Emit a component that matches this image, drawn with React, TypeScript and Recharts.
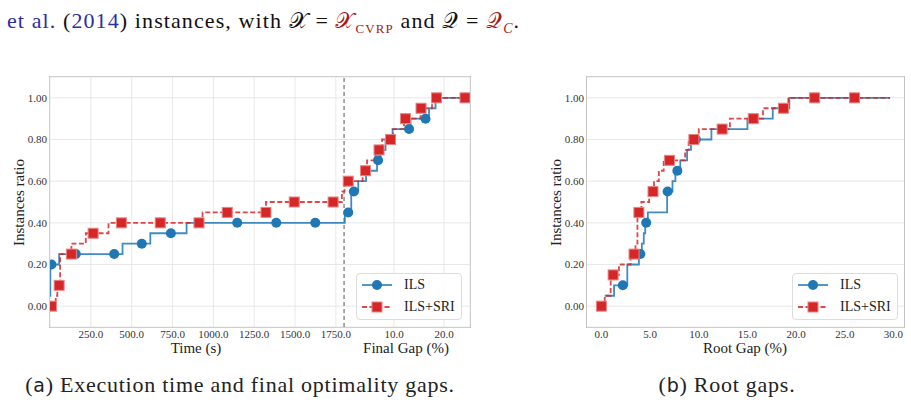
import React from 'react';
import { ComposedChart, Line, Scatter, XAxis, YAxis, CartesianGrid, ReferenceLine } from 'recharts';

// [x, ratio] pairs
// left panel: time part in seconds, gap part in %
const ilsTimeSteps = [[0, 0.05], [2, 0.2], [56, 0.25], [444, 0.3], [614, 0.35], [836, 0.4]];
const ilsGapSteps = [[0.16, 0.45], [1.44, 0.55], [2.84, 0.6], [4.4, 0.65], [6.6, 0.7], [7.3, 0.75], [8.3, 0.8], [9.7, 0.85], [13.3, 0.9], [17.0, 0.95], [18.3, 1.0], [24.2, 1.0]];
const ilsTimeMarks = [[9, 0.2], [158, 0.25], [393, 0.25], [562, 0.3], [740, 0.35], [1146, 0.4], [1385, 0.4], [1624, 0.4]];
const ilsGapMarks = [[0.84, 0.45], [1.96, 0.55], [6.8, 0.7], [13.0, 0.85], [16.3, 0.9], [24.2, 1.0]];

const sriTimeSteps = [[9, 0.0], [35, 0.05], [45, 0.1], [62, 0.25], [131, 0.3], [219, 0.35], [358, 0.4], [934, 0.45], [1322, 0.5], [1787, 0.55]];
const sriGapSteps = [[0.1, 0.6], [3.7, 0.65], [4.6, 0.7], [6.3, 0.75], [7.6, 0.8], [9.8, 0.85], [12.0, 0.9], [15.3, 0.95], [17.6, 1.0], [24.2, 1.0]];
const sriTimeMarks = [[9, 0.0], [56, 0.1], [131, 0.25], [264, 0.35], [437, 0.4], [675, 0.4], [912, 0.4], [1085, 0.45], [1322, 0.45], [1495, 0.5], [1733, 0.5]];
const sriGapMarks = [[0.84, 0.6], [4.3, 0.65], [7.0, 0.75], [9.3, 0.8], [12.3, 0.9], [15.4, 0.95], [18.5, 1.0], [24.2, 1.0]];

// right panel: root gap in %
const ilsRootSteps = [[0.34, 0.05], [1.3, 0.1], [2.66, 0.2], [3.85, 0.25], [4.15, 0.3], [4.35, 0.35], [4.5, 0.4], [4.77, 0.45], [6.75, 0.55], [7.3, 0.6], [7.6, 0.65], [8.1, 0.7], [8.8, 0.75], [9.2, 0.8], [11.3, 0.85], [15.0, 0.9], [17.6, 0.95], [19.3, 1.0], [29.65, 1.0]];
const ilsRootMarks = [[2.2, 0.1], [4.0, 0.25], [4.6, 0.4], [6.8, 0.55], [7.8, 0.65], [9.7, 0.8], [21.9, 1.0], [26.0, 1.0]];
const sriRootSteps = [[0, 0.0], [0.34, 0.05], [0.95, 0.15], [1.8, 0.2], [3.0, 0.25], [3.5, 0.3], [3.7, 0.45], [4.1, 0.5], [4.9, 0.55], [5.4, 0.6], [5.9, 0.65], [6.4, 0.7], [8.6, 0.75], [8.96, 0.8], [10.0, 0.85], [13.2, 0.9], [16.6, 0.95], [19.2, 1.0], [29.65, 1.0]];
const sriRootMarks = [[0, 0.0], [1.2, 0.15], [3.35, 0.25], [3.85, 0.45], [5.3, 0.55], [7.0, 0.7], [9.5, 0.8], [12.4, 0.85], [15.6, 0.9], [18.7, 0.95], [21.9, 1.0], [26.0, 1.0]];

const timeTicks = [250, 500, 750, 1000, 1250, 1500, 1750];
const gapTicks = [10, 20];
const rootTicks = [0, 5, 10, 15, 20, 25, 30];
const ratioTicks = [0, 0.2, 0.4, 0.6, 0.8, 1.0];

const TIME_END = 1800;
const GAP_SCALE = 30.6; // seconds-equivalent for 1% gap on the shared axis
const LEFT_X_MAX = 2571;

const BLUE = '#1f77b4';
const RED = '#d62728';
const SERIF = '"Liberation Serif", "Times New Roman", "DejaVu Serif", serif';

const fromTime = (pts: number[][]) => pts.map(([x, y]) => ({ x, y }));
const fromGap = (pts: number[][]) => pts.map(([g, y]) => ({ x: TIME_END + g * GAP_SCALE, y }));
const plain = (pts: number[][]) => pts.map(([x, y]) => ({ x, y }));

const ilsLeft = [...fromTime(ilsTimeSteps), ...fromGap(ilsGapSteps)];
const sriLeft = [...fromTime(sriTimeSteps), ...fromGap(sriGapSteps)];
const ilsLeftMarks = [...fromTime(ilsTimeMarks), ...fromGap(ilsGapMarks)];
const sriLeftMarks = [...fromTime(sriTimeMarks), ...fromGap(sriGapMarks)];
const leftTicks = [...timeTicks, ...gapTicks.map((g) => TIME_END + g * GAP_SCALE)];

const leftTickFmt = (v: number) => (v <= TIME_END ? v.toFixed(1) : ((v - TIME_END) / GAP_SCALE).toFixed(1));

const BlueDot = (p: any) => <circle cx={p.cx} cy={p.cy} r={5} fill={BLUE} />;
const RedSquare = (p: any) => (
  <rect x={p.cx - 5} y={p.cy - 5} width={10} height={10} fill={RED} stroke="#e88384" strokeWidth={1} />
);

const tickStyle = { fontSize: 11, fill: '#333', fontFamily: SERIF };

function Series({ ils, sri, ilsMarks, sriMarks }: any) {
  return [
    <Line key="l1" data={ils} dataKey="y" type="stepAfter" stroke={BLUE} strokeOpacity={0.85} strokeWidth={1.8} dot={false} activeDot={false} isAnimationActive={false} />,
    <Scatter key="s1" data={ilsMarks} shape={BlueDot} isAnimationActive={false} />,
    <Line key="l2" data={sri} dataKey="y" type="stepAfter" stroke={RED} strokeOpacity={0.85} strokeWidth={1.8} strokeDasharray="5 2.5" dot={false} activeDot={false} isAnimationActive={false} />,
    <Scatter key="s2" data={sriMarks} shape={RedSquare} isAnimationActive={false} />,
  ];
}

function Legend({ left }: { left: number }) {
  const txt: React.CSSProperties = { position: 'absolute', left: 47, fontFamily: SERIF, fontSize: 14, lineHeight: '14px', color: '#222' };
  return (
    <div style={{ position: 'absolute', left, top: 273, width: 106, height: 47, border: '1px solid #dcdcdc', borderRadius: 4, background: 'rgba(255,255,255,0.85)', boxSizing: 'border-box' }}>
      <svg width={42} height={45} style={{ position: 'absolute', left: 0, top: 0 }}>
        <line x1={5} x2={35} y1={11} y2={11} stroke={BLUE} strokeOpacity={0.85} strokeWidth={1.8} />
        <circle cx={20} cy={11} r={5} fill={BLUE} />
        <line x1={5} x2={35} y1={33} y2={33} stroke={RED} strokeOpacity={0.85} strokeWidth={1.8} strokeDasharray="5 2.5" />
        <rect x={15} y={28} width={10} height={10} fill={RED} stroke="#e88384" strokeWidth={1} />
      </svg>
      <span style={{ ...txt, top: 4 }}>ILS</span>
      <span style={{ ...txt, top: 26 }}>ILS+SRI</span>
    </div>
  );
}

const centered = (x: number, y: number, size: number): React.CSSProperties => ({
  position: 'absolute', left: x, top: y - size / 2, transform: 'translateX(-50%)', whiteSpace: 'nowrap',
  fontFamily: SERIF, fontSize: size, lineHeight: `${size}px`, color: '#222',
});

export default function App() {
  return (
    <div style={{ position: 'absolute', left: 0, top: 0, width: 911, height: 404, overflow: 'hidden', background: '#fff', fontFamily: SERIF }}>
      {/* running text above the figure */}
      <div style={{ position: 'absolute', left: 7, top: 10, whiteSpace: 'nowrap', fontFamily: SERIF, fontSize: 22, lineHeight: '22px', letterSpacing: 1.1, color: '#111' }}>
        <span style={{ color: '#2d2da8' }}>et al.</span> (<span style={{ color: '#2d2da8' }}>2014</span>) instances, with 𝒳 = <span style={{ color: '#a31a1a' }}>𝒳<sub style={{ fontSize: 13 }}>CVRP</sub></span> and 𝒬 = <span style={{ color: '#a31a1a' }}>𝒬<sub style={{ fontSize: 14, fontStyle: 'italic' }}>C</sub></span>.
      </div>

      {/* axes frames */}
      <div style={{ position: 'absolute', left: 49, top: 76, width: 422, height: 252, border: '1px solid #c4c4c4', boxSizing: 'border-box' }} />
      <div style={{ position: 'absolute', left: 586, top: 76, width: 319, height: 252, border: '1px solid #c4c4c4', boxSizing: 'border-box' }} />

      <div style={{ position: 'absolute', left: 0, top: 0 }}>
        <ComposedChart width={480} height={404} margin={{ top: 77, right: 10, bottom: 47, left: 0 }}>
          <CartesianGrid stroke="#e2e2e2" strokeWidth={0.8} />
          <XAxis type="number" dataKey="x" domain={[0, LEFT_X_MAX]} allowDataOverflow ticks={leftTicks} interval={0}
            tickFormatter={leftTickFmt} axisLine={false} tickLine={false} tickSize={1} tickMargin={2} height={30} tick={tickStyle} />
          <YAxis type="number" dataKey="y" domain={[-0.1, 1.1]} allowDataOverflow ticks={ratioTicks} interval={0}
            tickFormatter={(v: number) => v.toFixed(2)} axisLine={false} tickLine={false} tickSize={1} tickMargin={2} width={50} tick={tickStyle} />
          <ReferenceLine x={TIME_END} stroke="#555" strokeWidth={1} strokeDasharray="4 3" />
          {Series({ ils: ilsLeft, sri: sriLeft, ilsMarks: ilsLeftMarks, sriMarks: sriLeftMarks })}
        </ComposedChart>
      </div>

      <div style={{ position: 'absolute', left: 480, top: 0 }}>
        <ComposedChart width={431} height={404} margin={{ top: 77, right: 7, bottom: 47, left: 0 }}>
          <CartesianGrid stroke="#e2e2e2" strokeWidth={0.8} vertical={false} />
          <XAxis type="number" dataKey="x" domain={[-1.48, 31.08]} allowDataOverflow ticks={rootTicks} interval={0}
            tickFormatter={(v: number) => v.toFixed(1)} axisLine={false} tickLine={false} tickSize={1} tickMargin={2} height={30} tick={tickStyle} />
          <YAxis type="number" dataKey="y" domain={[-0.1, 1.1]} allowDataOverflow ticks={ratioTicks} interval={0}
            tickFormatter={(v: number) => v.toFixed(2)} axisLine={false} tickLine={false} tickSize={1} tickMargin={2} width={107} tick={tickStyle} />
          {Series({ ils: plain(ilsRootSteps), sri: plain(sriRootSteps), ilsMarks: plain(ilsRootMarks), sriMarks: plain(sriRootMarks) })}
        </ComposedChart>
      </div>

      <Legend left={356} />
      <Legend left={792} />

      {/* axis titles */}
      <div style={{ ...centered(19, 202, 15), transform: 'translate(-50%, 0) rotate(-90deg)' }}>Instances ratio</div>
      <div style={{ ...centered(556, 202, 15), transform: 'translate(-50%, 0) rotate(-90deg)' }}>Instances ratio</div>
      <div style={centered(196, 348, 15)}>Time (s)</div>
      <div style={centered(406, 348, 15)}>Final Gap (%)</div>
      <div style={centered(745, 348, 15)}>Root Gap (%)</div>

      {/* sub-captions */}
      <div style={{ ...centered(240, 385, 22), letterSpacing: 0.75 }}>
        (<span style={{ fontFamily: '"DejaVu Sans", sans-serif', fontSize: 19 }}>a</span>) Execution time and final optimality gaps.
      </div>
      <div style={{ ...centered(727, 385, 22), letterSpacing: 0.75 }}>
        (<span style={{ fontFamily: '"DejaVu Sans", sans-serif', fontSize: 19 }}>b</span>) Root gaps.
      </div>
    </div>
  );
}
